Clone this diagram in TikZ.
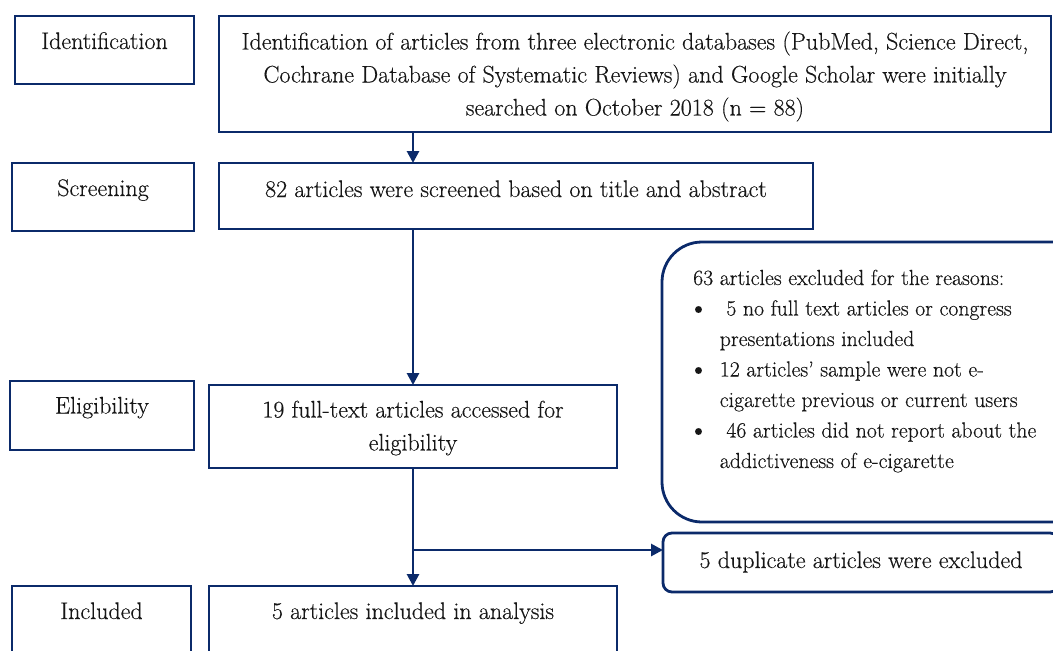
\documentclass[tikz,border=0pt]{standalone}
\usepackage{fontspec}
\setmainfont{Latin Modern Roman}[FakeBold=0.35]
\usetikzlibrary{arrows.meta}
\definecolor{navy}{HTML}{0B2A6A}
\definecolor{ink}{HTML}{161616}
\newcommand{\myfs}{\fontsize{24}{33}\selectfont}
\newcommand{\exfs}{\fontsize{21.8}{30.5}\selectfont}
\newcommand{\tx}[2]{\raisebox{#1}[0pt][0pt]{#2}}
\newcommand{\bul}{\raisebox{-2pt}{\fontsize{30}{30}\selectfont\textbullet}}
\begin{document}
\begin{tikzpicture}[x=1pt,y=-1pt,
  box/.style={draw=navy, line width=2.8pt, inner sep=0pt, outer sep=0pt, align=center,
              font=\myfs, text=ink, anchor=north west},
  rbox/.style={box, rounded corners=#1},
  arr/.style={draw=navy, line width=2.8pt, -{Triangle[length=12pt,width=12pt]}}]
\useasboundingbox (0,0) rectangle (1053,651);
\clip (0,0) rectangle (1053,651);
% left stage labels
\node[box, minimum width=179pt, minimum height=68pt] (idl) at (15,16) {\tx{1pt}{Identification}};
\node[box, minimum width=182pt, minimum height=68pt] (scl) at (12,163) {\tx{1pt}{Screening}};
\node[box, minimum width=184pt, minimum height=69pt] (ell) at (10,381) {\tx{2pt}{Eligibility}};
\node[box, minimum width=179pt, minimum height=80pt] (inl) at (12,586) {\tx{7pt}{Included}};
% main flow
\node[box, minimum width=832pt, minimum height=116pt] (idm) at (219,16)
  {\tx{-41.5pt}{\begin{tabular}[b]{@{}c@{}}
   Identification of articles from three electronic databases (PubMed, Science Direct,\\
   Cochrane Database of Systematic Reviews) and Google Scholar were initially\\
   searched on October 2018 (n = 88)\end{tabular}}};
\node[box, minimum width=594pt, minimum height=66pt] (scm) at (219,163)
  {\tx{-1pt}{82 articles were screened based on title and abstract}};
\node[box, minimum width=408pt, minimum height=83pt] (elm) at (209,385)
  {\tx{-24pt}{\begin{tabular}[b]{@{}c@{}}19 full-text articles accessed for\\ eligibility\end{tabular}}};
\node[box, minimum width=408pt, minimum height=80pt] (inm) at (209,586)
  {\tx{7pt}{5 articles included in analysis}};
% side boxes
\node[rbox=40pt, minimum width=430pt, minimum height=280pt] (exc) at (662,242) {};
\node[anchor=base west, inner sep=0pt, font=\exfs, text=ink] (exctext) at (693,285)
  {\begin{tabular}[t]{@{\hspace{-5.5pt}}c@{\hspace{10.5pt}}l@{}}
   \multicolumn{2}{@{}l@{}}{63 articles excluded for the reasons:}\\
   \bul & \ 5 no full text articles or congress\\
        & presentations included\\
   \bul & 12 articles' sample were not e-\\
        & cigarette previous or current users\\
   \bul & \ 46 articles did not report about the\\
        & addictiveness of e-cigarette
   \end{tabular}};
\node[rbox=9pt, minimum width=396pt, minimum height=59pt] (dup) at (663,533)
  {\tx{-5.5pt}{5 duplicate articles were excluded}};
% connectors
\draw[arr] (elm.north |- idm.south) -- (elm.north |- scm.north);
\draw[arr] (elm.north |- scm.south) -- (elm.north);
\draw[arr] (elm.south) -- (inm.north);
\coordinate (br) at (413,550);
\draw[arr] (br) -- (br -| dup.west);
\end{tikzpicture}
\end{document}
